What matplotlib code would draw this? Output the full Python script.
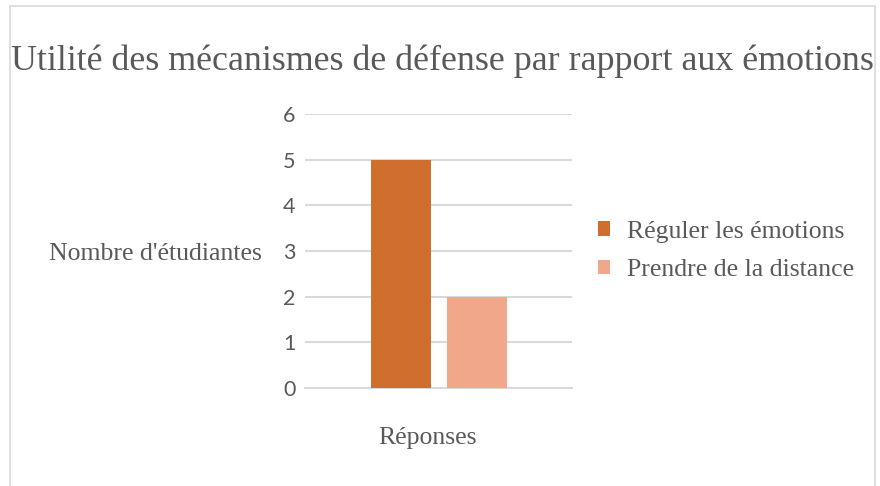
import matplotlib
matplotlib.use("Agg")
import matplotlib.pyplot as plt
from matplotlib.patches import Rectangle

title = "Utilité des mécanismes de défense par rapport aux émotions"
series = ["Réguler les émotions", "Prendre de la distance"]
values = [5, 2]
colors = ["#D06E2D", "#F1A88A"]
yticks = [0, 1, 2, 3, 4, 5, 6]
ylabel = "Nombre d'étudiantes"
xlabel = "Réponses"

serif = ["Liberation Serif", "DejaVu Serif"]
sans = ["Lato", "DejaVu Sans"]
txt = "#595959"
grid = "#D9D9D9"

fig = plt.figure(figsize=(8.8, 4.86), dpi=100)
fig.patches.append(Rectangle((10/880, -0.1), (875-10)/880, 1.1 - 6/486,
                             transform=fig.transFigure, fill=False,
                             edgecolor=grid, lw=1.2))

ax = fig.add_axes([305/880, 1-388/486, 267/880, 274/486])
xs = list(range(len(values)))
for i, (v, c, s) in enumerate(zip(values, colors, series)):
    ax.bar(xs[i], v, width=0.79, color=c, label=s, zorder=3)
ax.set_xlim(-1.263, 2.25)
ax.set_ylim(0, 6)
ax.set_yticks(yticks)
ax.set_xticks([])
ax.grid(axis="y", color=grid, lw=1.5, zorder=0)
for sp in ["top", "right", "left"]:
    ax.spines[sp].set_visible(False)
ax.spines["bottom"].set_color(grid)
ax.spines["bottom"].set_linewidth(1.5)
ax.tick_params(axis="y", length=0, pad=7, labelcolor=txt)
for t in ax.get_yticklabels():
    t.set_fontfamily(sans)
    t.set_fontsize(15.5)

ax.set_ylabel(ylabel, rotation=0, ha="right", va="center",
              family=serif, fontsize=18.5, color=txt)
ax.yaxis.set_label_coords(-0.161, 0.49)
ax.set_xlabel(xlabel, family=serif, fontsize=18.5, color=txt)
ax.xaxis.set_label_coords(0.46, -0.142)

fig.text(442/880, 1-61/486, title, ha="center", va="center",
         family=serif, fontsize=25.8, color=txt)

leg = ax.legend(loc="center left", bbox_to_anchor=(598/880, 1-251/486),
                bbox_transform=fig.transFigure, frameon=False,
                borderaxespad=0, borderpad=0,
                prop={"family": serif, "size": 18.5},
                handlelength=0.47, handleheight=0.47, handletextpad=0.66,
                labelspacing=0.65)
for t in leg.get_texts():
    t.set_color(txt)

fig.savefig("out.png", dpi=100)
